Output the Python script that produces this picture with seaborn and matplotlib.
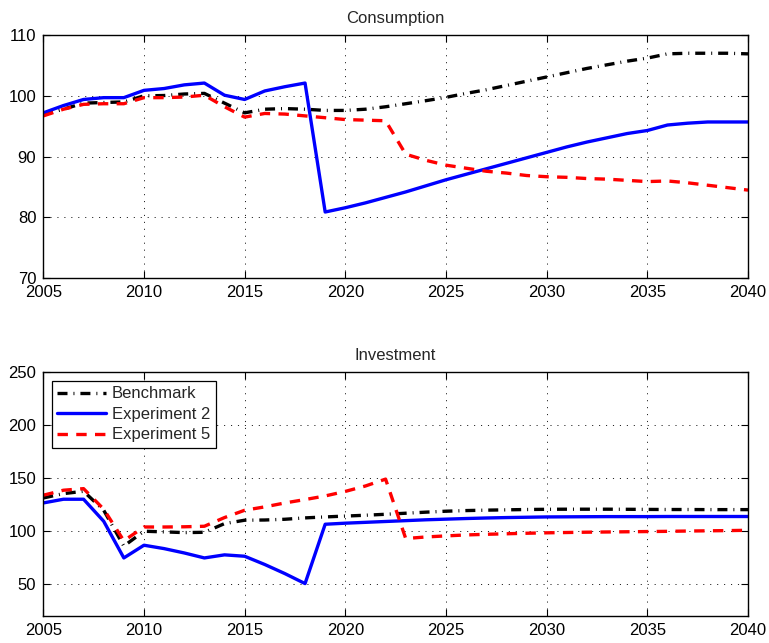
import numpy as np
import pandas as pd
import matplotlib
matplotlib.use("Agg")
import matplotlib.pyplot as plt
import seaborn as sns

# ---------------------------------------------------------------------------
# Data: annual paths, 2005-2040
# ---------------------------------------------------------------------------
years = list(range(2005, 2041))
series_names = ["Benchmark", "Experiment 2", "Experiment 5"]

cons_benchmark = [96.9, 97.8, 98.8, 98.9, 99.0, 100.0, 100.05, 100.3, 100.4, 98.8,
                  97.2, 97.8, 97.9, 97.8, 97.6, 97.6, 97.8, 98.2, 98.7, 99.2,
                  99.75, 100.4, 101.0, 101.7, 102.4, 103.1, 103.8, 104.5, 105.1, 105.7,
                  106.2, 106.9, 107.0, 107.0, 107.0, 106.9]
cons_exp2 = [97.2, 98.4, 99.4, 99.7, 99.7, 100.9, 101.2, 101.8, 102.1, 100.1,
             99.4, 100.8, 101.5, 102.1, 80.9, 81.6, 82.4, 83.3, 84.2, 85.2,
             86.2, 87.1, 88.0, 88.9, 89.8, 90.7, 91.6, 92.4, 93.1, 93.8,
             94.3, 95.2, 95.5, 95.7, 95.7, 95.7]
cons_exp5 = [96.7, 97.8, 98.6, 98.7, 98.7, 99.7, 99.7, 99.8, 100.1, 98.2,
             96.5, 97.1, 97.0, 96.7, 96.4, 96.1, 96.0, 95.9, 90.4, 89.4,
             88.6, 88.1, 87.6, 87.3, 86.9, 86.7, 86.6, 86.4, 86.3, 86.1,
             85.9, 86.0, 85.7, 85.3, 84.9, 84.5]

inv_benchmark = [131.4, 135.5, 137.7, 119.8, 86.0, 100.0, 99.4, 98.7, 99.0, 107.2,
                 110.4, 110.6, 111.3, 112.6, 113.5, 114.3, 115.1, 116.0, 117.0, 118.0,
                 118.9, 119.5, 119.9, 120.2, 120.5, 120.7, 120.8, 120.8, 120.8, 120.7,
                 120.6, 120.5, 120.5, 120.4, 120.4, 120.4]
inv_exp2 = [126.7, 130.2, 130.2, 109.4, 74.8, 86.8, 83.6, 79.5, 74.8, 77.7,
            76.4, 68.6, 60.0, 50.6, 106.6, 107.6, 108.4, 109.2, 110.0, 110.8,
            111.4, 112.0, 112.5, 112.9, 113.2, 113.5, 113.6, 113.7, 113.8, 113.8,
            113.8, 113.9, 113.9, 113.9, 113.9, 113.9]
inv_exp5 = [134.0, 138.7, 140.2, 120.8, 91.0, 104.0, 104.0, 104.2, 104.7, 112.9,
            119.8, 123.0, 126.7, 129.9, 133.3, 137.6, 142.7, 149.2, 93.1, 94.6,
            95.6, 96.5, 97.1, 97.6, 98.1, 98.5, 98.8, 99.1, 99.3, 99.5,
            99.7, 99.9, 100.2, 100.4, 100.6, 100.9]

x_ticks = list(range(2005, 2041, 5))
cons_yticks = [70, 80, 90, 100, 110]
inv_yticks = [50, 100, 150, 200, 250]


def long_frame(bench, exp2, exp5):
    parts = []
    for name, vals in zip(series_names, [bench, exp2, exp5]):
        parts.append(pd.DataFrame({"year": years, "value": vals, "series": name}))
    return pd.concat(parts, ignore_index=True)


df_cons = long_frame(cons_benchmark, cons_exp2, cons_exp5)
df_inv = long_frame(inv_benchmark, inv_exp2, inv_exp5)

# ---------------------------------------------------------------------------
# Style
# ---------------------------------------------------------------------------
sns.set_style("ticks")
plt.rcParams["font.family"] = ["Liberation Sans", "DejaVu Sans"]
plt.rcParams["lines.scale_dashes"] = False
plt.rcParams["axes.linewidth"] = 1.0

FS = 12
palette = {"Benchmark": "#000000", "Experiment 2": "#0000ff", "Experiment 5": "#ff0000"}
dash_map = {"Benchmark": (7.2, 4.3, 0.7, 4.3),
            "Experiment 2": "",
            "Experiment 5": (7.5, 6.0)}

W, H = 769, 643
fig = plt.figure(figsize=(W / 100, H / 100), dpi=100)
left, right = 43.3, 748.0
ax1 = fig.add_axes([left / W, 1 - 278.3 / H, (right - left) / W, (278.3 - 35.0) / H])
ax2 = fig.add_axes([left / W, 1 - 616.0 / H, (right - left) / W, (616.0 - 372.3) / H])


def draw(ax, df, ylim, yticks, title):
    sns.lineplot(data=df, x="year", y="value", hue="series", style="series",
                 hue_order=series_names, style_order=series_names,
                 palette=palette, dashes=dash_map, linewidth=2.4,
                 estimator=None, legend=False, ax=ax)
    ax.set_xlim(2005, 2040)
    ax.set_ylim(*ylim)
    ax.set_xticks(x_ticks)
    ax.set_yticks(yticks)
    ax.set_xlabel("")
    ax.set_ylabel("")
    ax.set_title(title, fontsize=FS, pad=9)
    ax.set_axisbelow(True)
    ax.grid(True, linestyle=(0, (0.8, 4.2)), color="#222222", linewidth=0.7)
    ax.tick_params(direction="in", length=5, width=0.8, top=True, right=True,
                   labelsize=FS, colors="black")
    ax.tick_params(axis="x", pad=5)
    ax.tick_params(axis="y", pad=5)
    for sp in ax.spines.values():
        sp.set_visible(True)
        sp.set_color("black")
        sp.set_linewidth(1.0)


draw(ax1, df_cons, (70, 110), cons_yticks, "Consumption")
draw(ax2, df_inv, (20, 250), inv_yticks, "Investment")

leg = ax2.legend(handles=list(ax2.lines), labels=series_names, loc="upper left",
                 frameon=True, fancybox=False, edgecolor="black", framealpha=1,
                 fontsize=FS, handlelength=2.9, handletextpad=0.35,
                 labelspacing=0.33, borderpad=0.35, borderaxespad=0.5)
leg.get_frame().set_linewidth(0.9)

fig.savefig("out.png", dpi=100)
